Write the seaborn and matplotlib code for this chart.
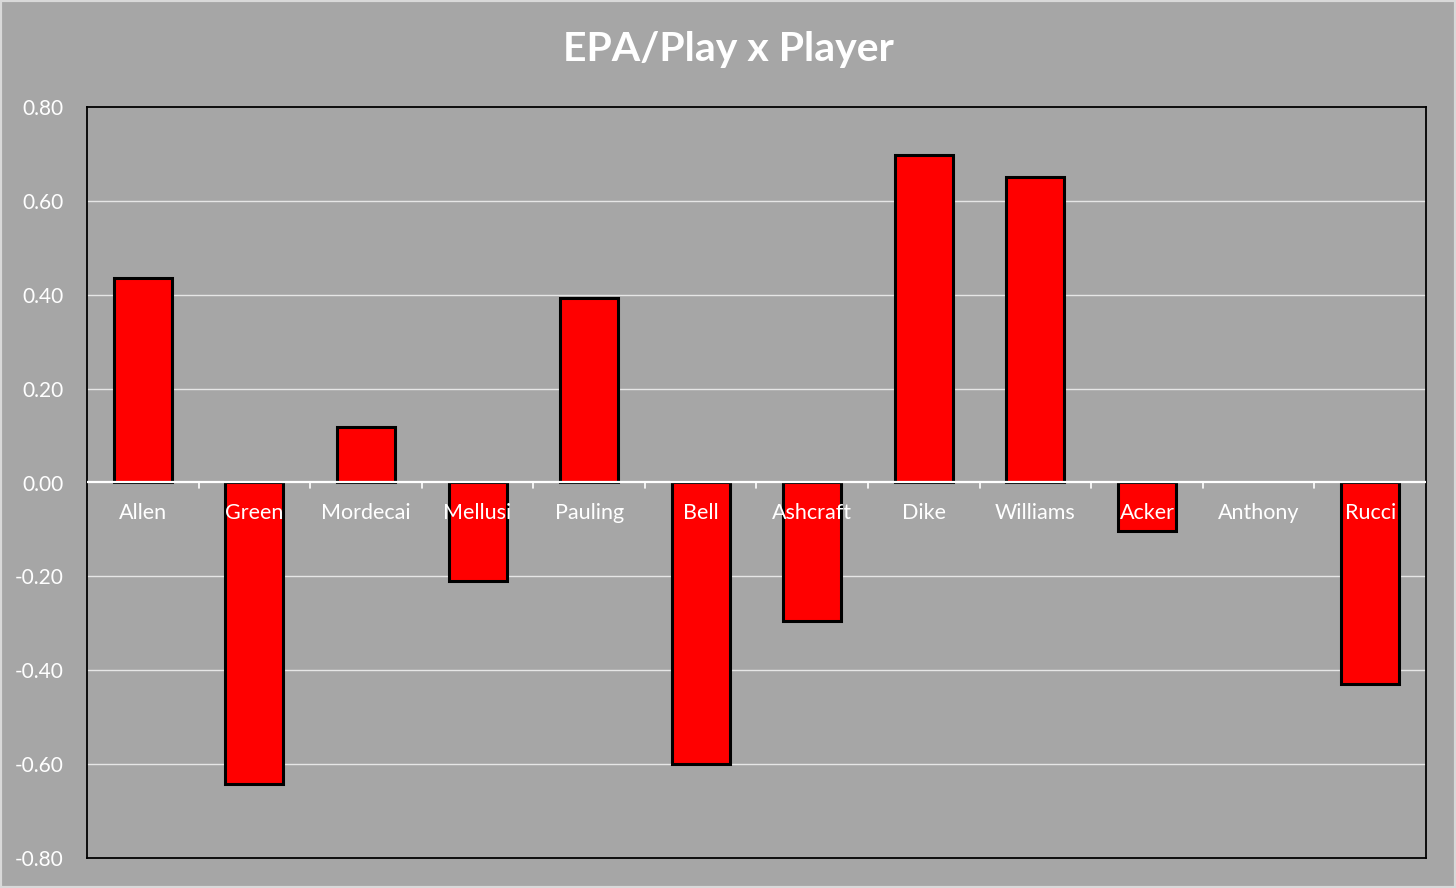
import matplotlib
matplotlib.use("Agg")
import matplotlib.pyplot as plt
import seaborn as sns
import pandas as pd
import numpy as np
from matplotlib.patches import Rectangle

players = ["Allen", "Green", "Mordecai", "Mellusi", "Pauling", "Bell",
           "Ashcraft", "Dike", "Williams", "Acker", "Anthony", "Rucci"]
epa = [0.436, -0.643, 0.119, -0.209, 0.394, -0.600,
       -0.296, 0.698, 0.651, -0.104, 0.0, -0.430]
yticks = [-0.8, -0.6, -0.4, -0.2, 0.0, 0.2, 0.4, 0.6, 0.8]

df = pd.DataFrame({"Player": players, "EPA": epa})

sns.set_theme(style="white")
plt.rcParams['font.family'] = ['Lato', 'DejaVu Sans']

bg = "#A6A6A6"
fig = plt.figure(figsize=(14.56, 8.88), dpi=100, facecolor=bg)
ax = fig.add_axes([87/1456, 30/888, (1426-87)/1456, (858-107)/888])
ax.set_facecolor(bg)

sns.barplot(data=df, x="Player", y="EPA", ax=ax, color="#FF0000",
            saturation=1, width=0.52, edgecolor="black", linewidth=2.2,
            zorder=3)
for p in ax.patches:
    if abs(p.get_height()) < 1e-9:
        p.set_linewidth(0)

ax.set_ylim(-0.8, 0.8)
ax.set_xlim(-0.5, len(players) - 0.5)
ax.set_yticks(yticks)
ax.set_yticklabels([f"{v:.2f}" for v in yticks], color="white", fontsize=15)
ax.tick_params(axis="y", length=0, pad=17)
ax.set_xticks([])
ax.set_xlabel("")
ax.set_ylabel("")
ax.grid(False)
for v in yticks:
    if v not in (-0.8, 0.8, 0.0):
        ax.axhline(v, color="#E6E6E6", linewidth=1.0, zorder=1)
ax.axhline(0, color="white", linewidth=1.6, zorder=4)
for b in np.arange(0.5, len(players) - 0.5, 1.0):
    ax.plot([b, b], [0, -0.011], color="white", linewidth=1.2, zorder=4)

for i, name in enumerate(players):
    ax.text(i, -0.064, name, ha="center", va="center", color="white",
            fontsize=15.5, zorder=5)

for s in ax.spines.values():
    s.set_color("black")
    s.set_linewidth(1.3)
    s.set_visible(True)

fig.text(0.5, 1 - 50/888, "EPA/Play x Player", ha="center", va="center",
         color="white", fontsize=29.5, fontweight="bold")

fig.patches.append(Rectangle((0, 0), 1, 1, transform=fig.transFigure,
                             fill=False, edgecolor="#D9D9D9", linewidth=3))

fig.savefig("out.png", dpi=100, facecolor=bg)
